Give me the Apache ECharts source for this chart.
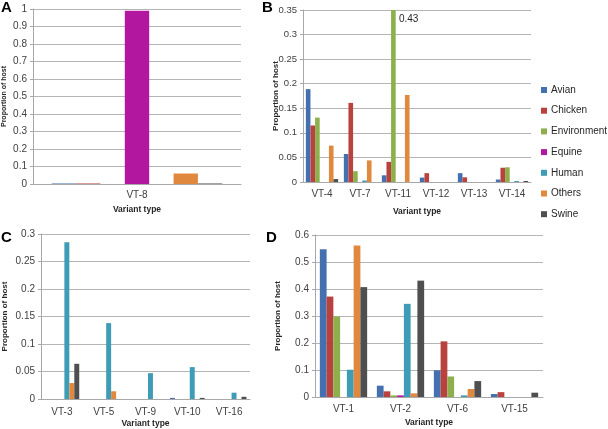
<!DOCTYPE html>
<html><head><meta charset="utf-8">
<script src="https://cdn.jsdelivr.net/npm/echarts@6/dist/echarts.min.js"></script>
<style>html,body{margin:0;padding:0;background:#fff}#c{width:608px;height:429px}</style>
</head><body><div id="c"></div>
<script>
const hosts = ['Avian','Chicken','Environment','Equine','Human','Others','Swine'];
const hostColors = ['#4470AF','#B9413E','#8DB04D','#B2189F','#3E9CB6','#E0893E','#4F4F4F'];

const catsA = ['VT-8'];
const valuesA = [[0.003],[0.003],[0],[0.99],[0],[0.06],[0.003]];

const catsB = ['VT-4','VT-7','VT-11','VT-12','VT-13','VT-14'];
const valuesB = [
  [0.189,0.057,0.0136,0.009,0.018,0.005],
  [0.115,0.161,0.041,0.018,0.0095,0.029],
  [0.131,0.022,0.43,0,0,0.030],
  [0,0,0,0,0,0],
  [0,0.003,0,0,0,0.002],
  [0.074,0.044,0.177,0,0,0],
  [0.006,0,0,0,0,0.002]
];

const catsC = ['VT-3','VT-5','VT-9','VT-10','VT-16'];
const valuesC = [
  [0,0,0,0.002,0],
  [0,0,0,0,0],
  [0,0,0,0,0],
  [0,0,0,0,0],
  [0.285,0.138,0.047,0.058,0.0115],
  [0.029,0.014,0,0,0],
  [0.064,0,0,0.002,0.004]
];

const catsD = ['VT-1','VT-2','VT-6','VT-15'];
const valuesD = [
  [0.547,0.042,0.099,0.011],
  [0.372,0.021,0.206,0.018],
  [0.298,0.006,0.076,0],
  [0,0.006,0,0],
  [0.101,0.345,0.006,0],
  [0.561,0.0135,0.0296,0],
  [0.407,0.431,0.059,0.016]
];

const yMax = [1, 0.35, 0.3, 0.6];
const yStep = [0.1, 0.05, 0.05, 0.1];
const panelLetters = ['A','B','C','D'];

const FONT = 'Liberation Sans';
const grids = [
  {left:32, top:9, width:209, height:175},
  {left:303, top:10, width:228, height:172},
  {left:40, top:234, width:210, height:165},
  {left:315, top:235, width:228, height:162}
];
const cats = [catsA, catsB, catsC, catsD];
const vals = [valuesA, valuesB, valuesC, valuesD];
const yNameGap = [25, 23, 32, 33];
const yNameSize = [7, 8, 8, 8];
const yLabelSize = [10, 9.5, 10, 10];
const xNameGap = [21, 25, 20, 21];
const xLabelMargin = [6, 7, 8, 7];
const catGap = ['18%','15%','17%','17%'];

const xAxis = [], yAxis = [], series = [];
for (let p = 0; p < 4; p++) {
  xAxis.push({
    type:'category', gridIndex:p, data:cats[p],
    axisLine:{show:true, lineStyle:{color:'#a8a8a8'}}, axisTick:{show:false},
    axisLabel:{color:'#404040', fontSize:10, fontFamily:FONT, margin:xLabelMargin[p]},
    name:'Variant type', nameLocation:'middle', nameGap:xNameGap[p], nameMoveOverlap:false,
    nameTextStyle:{color:'#262626', fontSize:8.5, fontWeight:'bold', fontFamily:FONT}
  });
  yAxis.push({
    type:'value', gridIndex:p, min:0, max:yMax[p], interval:yStep[p],
    axisLine:{show:true, lineStyle:{color:'#a8a8a8'}},
    axisTick:{show:true, length:3, lineStyle:{color:'#a8a8a8'}},
    splitLine:{lineStyle:{color:'#b5b5b5'}},
    axisLabel:{color:'#404040', fontSize:yLabelSize[p], fontFamily:FONT, margin:6},
    name:'Proportion of host', nameLocation:'middle', nameGap:yNameGap[p], nameMoveOverlap:false,
    nameTextStyle:{color:'#262626', fontSize:yNameSize[p], fontWeight:'bold', fontFamily:FONT}
  });
  hosts.forEach((h, i) => {
    const s = {
      type:'bar', name:h, xAxisIndex:p, yAxisIndex:p,
      data:vals[p][i], barGap:'0%', barCategoryGap:catGap[p],
      itemStyle:{color:hostColors[i]}, clip:true, animation:false
    };
    if (p === 1 && h === 'Environment') {
      const k = vals[p][i].indexOf(Math.max(...vals[p][i]));
      s.markPoint = {
        symbol:'circle', symbolSize:1, itemStyle:{color:'rgba(0,0,0,0)'},
        data:[{coord:[cats[p][k], yMax[p]], value:vals[p][i][k]}],
        label:{show:true, position:'right', distance:4, offset:[1,9],
          formatter:(d)=>String(d.value), color:'#262626', fontSize:10, fontFamily:FONT}
      };
    }
    series.push(s);
  });
}

const titlePos = [[1,0],[262,0],[1,230],[266,230]];
const title = panelLetters.map((t, i) => ({
  text:t, left:titlePos[i][0], top:titlePos[i][1], padding:0,
  textStyle:{fontSize:15, fontWeight:'bold', color:'#000', fontFamily:FONT}
}));

const chart = echarts.init(document.getElementById('c'), null, {renderer:'canvas'});
chart.setOption({
  animation:false,
  title:title,
  grid:grids,
  xAxis:xAxis, yAxis:yAxis,
  legend:{
    data:hosts, orient:'vertical', left:536, top:79,
    icon:'rect', itemWidth:6, itemHeight:6, itemGap:8.7,
    textStyle:{color:'#262626', fontSize:10, fontFamily:FONT, lineHeight:12, padding:[0,0,0,-1]},
    selectedMode:false
  },
  series:series
});
</script></body></html>
